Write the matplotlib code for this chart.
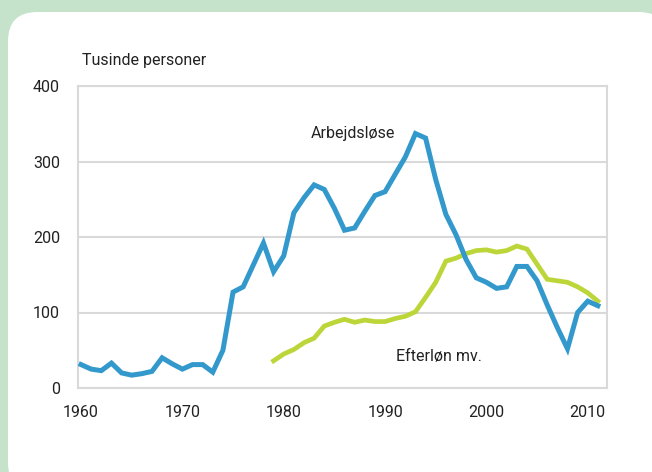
import matplotlib
matplotlib.use("Agg")
import matplotlib.pyplot as plt
from matplotlib.patches import FancyBboxPatch

# data (thousand persons)
years_unemp = list(range(1960, 2012))
unemployed = [31, 25, 23, 33, 20, 17, 19, 22, 40, 32,
              25, 31, 31, 21, 50, 127, 134, 163, 192, 154,
              175, 232, 252, 269, 263, 238, 209, 212, 234, 255,
              260, 283, 306, 337, 331, 276, 230, 203, 170, 146,
              140, 132, 134, 161, 161, 142, 110, 80, 52, 100,
              115, 109]

years_early = list(range(1979, 2012))
early_retire = [36, 45, 51, 60, 66, 82, 87, 91, 87, 90,
                88, 88, 92, 95, 101, 120, 140, 168, 172, 178,
                182, 183, 180, 182, 188, 184, 164, 144, 142, 140,
                134, 126, 115]

xticks = [1960, 1970, 1980, 1990, 2000, 2010]
yticks = [0, 100, 200, 300, 400]

blue = "#3399cc"
green = "#bcd63a"
grid_col = "#d9d9d9"

plt.rcParams['font.family'] = ['Roboto', 'DejaVu Sans']

fig = plt.figure(figsize=(6.52, 4.72), dpi=100)
fig.patch.set_facecolor("#c5e3ca")

# white rounded panel behind everything
panel = FancyBboxPatch((8 / 652, -20 / 472), 660 / 652, 480 / 472,
                       boxstyle="round,pad=0,rounding_size=0.045",
                       transform=fig.transFigure, facecolor="white",
                       edgecolor="none", mutation_aspect=652 / 472, zorder=-5)
fig.patches.append(panel)

ax = fig.add_axes([78 / 652, 1 - 388 / 472, (607 - 78) / 652, (388 - 86) / 472])
ax.set_facecolor("white")

ax.plot(years_unemp, unemployed, color=blue, lw=3.6, solid_joinstyle="miter", zorder=3)
ax.plot(years_early, early_retire, color=green, lw=3.4, solid_joinstyle="miter", zorder=2)

ax.set_xlim(1959.7, 2011.9)
ax.set_ylim(0, 400)
ax.set_xticks(xticks)
ax.set_yticks(yticks)
ax.tick_params(length=0, labelsize=11.5, colors="#222222")
ax.tick_params(axis="y", pad=13)
ax.tick_params(axis="x", pad=12)

for s in ax.spines.values():
    s.set_color(grid_col)
    s.set_linewidth(1.5)
ax.yaxis.grid(True, color=grid_col, lw=1.5)
ax.set_axisbelow(True)

ax.text(1982.7, 337, "Arbejdsløse", fontsize=11.5, color="#222222", ha="left", va="center")
ax.text(1991.1, 42, "Efterløn mv.", fontsize=11.5, color="#222222", ha="left", va="center")
fig.text(82 / 652, 1 - 61 / 472, "Tusinde personer", fontsize=11.5, color="#222222",
         ha="left", va="center")

fig.savefig("out.png", dpi=100, facecolor=fig.get_facecolor())
